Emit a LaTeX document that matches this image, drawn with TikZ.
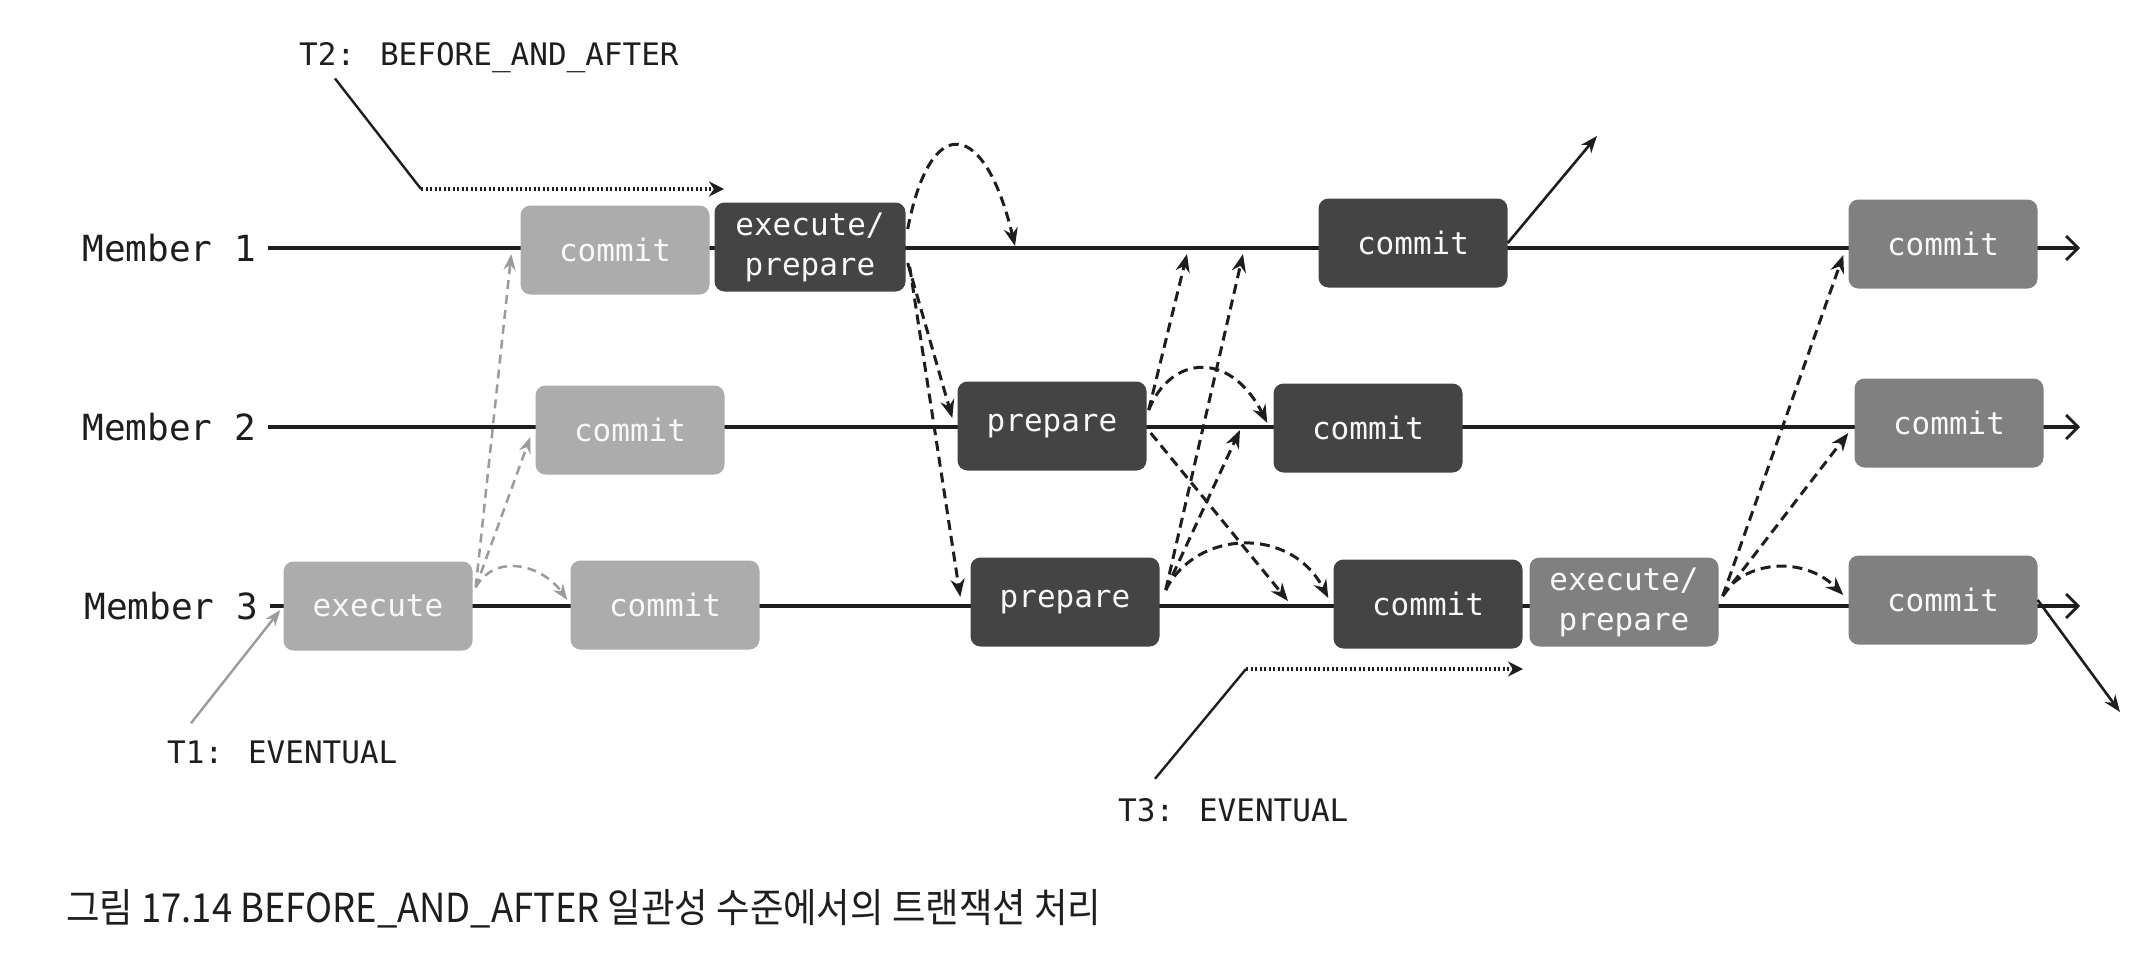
\documentclass[tikz,border=0pt]{standalone}
\usepackage{fontspec}
\newfontfamily\monofont{DejaVu Sans Mono}
\newfontfamily\krfont[FakeStretch=0.91]{Noto Sans CJK KR}
\usetikzlibrary{arrows.meta,calc}
\definecolor{lightbox}{RGB}{172,172,172}
\definecolor{darkbox}{RGB}{68,68,68}
\definecolor{midbox}{RGB}{128,128,128}
\definecolor{lightarrow}{RGB}{155,155,155}
\definecolor{inkc}{RGB}{30,30,30}
\definecolor{boxtext}{RGB}{248,248,248}
\begin{document}
\begin{tikzpicture}[x=1pt,y=-1pt,
  box/.style={rounded corners=10pt, minimum width=189pt, minimum height=89pt, inner sep=0pt,
    text=boxtext, font=\monofont\fontsize{31}{40}\selectfont, align=center},
  lbox/.style={box, fill=lightbox},
  dbox/.style={box, fill=darkbox},
  mbox/.style={box, fill=midbox},
  member/.style={font=\monofont\fontsize{36}{40}\selectfont, text=inkc, anchor=east, inner sep=0pt},
  note/.style={font=\monofont\fontsize{31}{36}\selectfont, text=inkc, inner sep=0pt},
  timeline/.style={draw=inkc, line width=3.2pt, -{Straight Barb[length=12pt,width=24pt,line width=2.8pt]}},
  msg/.style={draw=inkc, line width=3pt, dash pattern=on 10pt off 6pt, -{Stealth[length=18pt,width=14pt]}},
  lmsg/.style={draw=lightarrow, line width=2.5pt, dash pattern=on 9pt off 6pt, -{Stealth[length=16pt,width=12pt]}},
  pointer/.style={draw=inkc, line width=2.4pt},
  lpointer/.style={draw=lightarrow, line width=2.4pt, -{Stealth[length=16pt,width=12pt]}},
  dotarrow/.style={draw=inkc, line width=3.4pt, dash pattern=on 2pt off 2.5pt, -{Stealth[length=15pt,width=15pt]}},
  solidarrow/.style={draw=inkc, line width=2.6pt, -{Stealth[length=17pt,width=13pt]}},
]
\fill[white] (0,0) rectangle (2150,954);
\useasboundingbox (0,0) rectangle (2150,954);

% member labels
\node[member] (m1) at (256,248) {Member 1};
\node[member] (m2) at (256,427) {Member 2};
\node[member] (m3) at (258,606) {Member 3};

% timeline ends
\coordinate (e1) at (2080,248);
\coordinate (e2) at (2080,427);
\coordinate (e3e) at (2080,606);
\draw[timeline] ($(m1.east)+(12,0)$) -- (e1);
\draw[timeline] ($(m2.east)+(12,0)$) -- (e2);
\draw[timeline] ($(m3.east)+(12,0)$) -- (e3e);

% boxes
\node[lbox] (c1a) at (615,250) {commit};
\node[dbox, minimum width=191pt] (ep1) at (810,247) {execute/\\prepare};
\node[dbox] (c1b) at (1413,243) {commit};
\node[mbox] (c1c) at (1943,244) {commit};

\node[lbox] (c2a) at (630,430) {commit};
\node[dbox] (p2) at (1052,426) {prepare};
\node[dbox] (c2b) at (1368,428) {commit};
\node[mbox] (c2c) at (1949,423) {commit};

\node[lbox] (e3) at (378,606) {execute};
\node[lbox] (c3a) at (665,605) {commit};
\node[dbox] (p3) at (1065,602) {prepare};
\node[dbox] (c3b) at (1428,604) {commit};
\node[mbox] (ep3) at (1624,602) {execute/\\prepare};
\node[mbox] (c3c) at (1943,600) {commit};

% annotations
\node[note, anchor=base west] (t2) at (299,65) {T2: BEFORE\_AND\_AFTER};
\coordinate (t2k) at (421,189);
\coordinate (t2e) at (724,189);
\draw[pointer] ($(t2.south west)+(36,6)$) -- (t2k);
\draw[dotarrow] (t2k) -- (t2e);

\node[note, anchor=base west] (t1) at (167,763) {T1: EVENTUAL};
\draw[lpointer] ($(t1.north west)+(24,-17)$) -- ($(e3.west)+(-3,4)$);

\node[note, anchor=base west] (t3) at (1118,821) {T3: EVENTUAL};
\coordinate (t3k) at (1246,669);
\coordinate (t3e) at (1523,669);
\draw[pointer] ($(t3.north west)+(37,-19)$) -- (t3k);
\draw[dotarrow] (t3k) -- (t3e);

% T1 messages (light)
\coordinate (s1) at ($(e3.north east)+(3,26)$);
\draw[lmsg] (s1) -- ($(c1a.west)+(-9,4)$);
\draw[lmsg] (s1) -- ($(c2a.west)+(-5,7)$);
\draw[lmsg] (s1) .. controls +(20,-35) and +(-25,-35) .. ($(c3a.west)+(-3,-5)$);

% T2 messages
\coordinate (q1) at (1015,246);
\draw[msg] ($(ep1.east)+(2,-18)$) .. controls +(23,-119) and +(-30,-126) .. (q1);
\draw[msg] ($(ep1.east)+(2,16)$) -- ($(p2.west)+(-5,-8)$);
\draw[msg] ($(ep1.east)+(4,20)$) -- ($(p3.west)+(-10,-5)$);

\coordinate (q2) at (1187,254);
\coordinate (q3) at (1288,601);
\draw[msg] ($(p2.east)+(2,-16)$) -- (q2);
\draw[msg] ($(p2.east)+(2,-16)$) .. controls +(22,-55) and +(-37,-73) .. ($(c2b.west)+(-6,-5)$);
\draw[msg] ($(p2.east)+(4,7)$) -- (q3);

\coordinate (q4) at (1243,254);
\coordinate (q5) at (1240,430);
\draw[msg] ($(p3.east)+(6,-12)$) -- (q4);
\draw[msg] ($(p3.east)+(6,-12)$) -- (q5);
\draw[msg] ($(p3.east)+(6,-12)$) .. controls +(30,-60) and +(-38,-73) .. ($(c3b.west)+(-5,-6)$);

% T3 messages
\coordinate (s3) at ($(ep3.east)+(4,-6)$);
\draw[msg] (s3) -- ($(c1c.west)+(-5,11)$);
\draw[msg] (s3) -- ($(c2c.west)+(-6,10)$);
\draw[msg] (s3) .. controls +(20,-35) and +(-40,-40) .. ($(c3c.west)+(-5,-5)$);

% outgoing solid arrows
\coordinate (o1) at (1597,136);
\coordinate (o2) at (2120,712);
\draw[solidarrow] (c1b.east) -- (o1);
\draw[solidarrow] (c3c.east) -- (o2);

% caption
\node[font=\krfont\fontsize{40}{46}\selectfont, anchor=base west, text=inkc, inner sep=0pt] (cap) at (66,922)
  {그림 17.14 BEFORE\_AND\_AFTER 일관성 수준에서의 트랜잭션 처리};
\end{tikzpicture}
\end{document}
